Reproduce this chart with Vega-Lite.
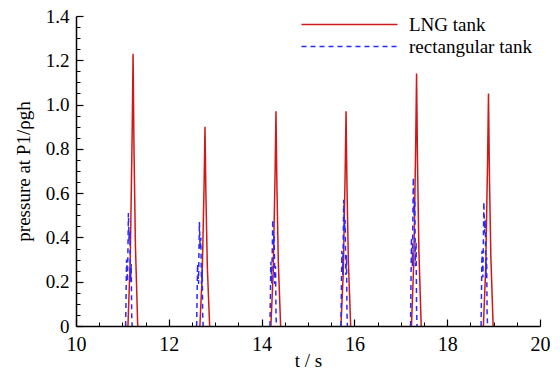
{
  "$schema": "https://vega.github.io/schema/vega-lite/v6.json",
  "width": 464,
  "height": 310,
  "autosize": {"type": "none"},
  "padding": {"left": 76, "top": 16, "right": 20, "bottom": 46},
  "background": "white",
  "config": {
    "view": {"stroke": null},
    "font": "Liberation Serif",
    "axis": {"labelFont": "Liberation Serif", "titleFont": "Liberation Serif"},
    "legend": {"labelFont": "Liberation Serif"}
  },
  "data": {"values": [
    {"series": "LNG tank", "spike": 1, "t": 11.12, "p": 0},
    {"series": "LNG tank", "spike": 1, "t": 11.17, "p": 0.31},
    {"series": "LNG tank", "spike": 1, "t": 11.21, "p": 0.86},
    {"series": "LNG tank", "spike": 1, "t": 11.23, "p": 1.23},
    {"series": "LNG tank", "spike": 1, "t": 11.25, "p": 0.80},
    {"series": "LNG tank", "spike": 1, "t": 11.28, "p": 0.37},
    {"series": "LNG tank", "spike": 1, "t": 11.33, "p": 0},
    {"series": "LNG tank", "spike": 2, "t": 12.67, "p": 0},
    {"series": "LNG tank", "spike": 2, "t": 12.72, "p": 0.23},
    {"series": "LNG tank", "spike": 2, "t": 12.76, "p": 0.63},
    {"series": "LNG tank", "spike": 2, "t": 12.78, "p": 0.90},
    {"series": "LNG tank", "spike": 2, "t": 12.80, "p": 0.59},
    {"series": "LNG tank", "spike": 2, "t": 12.83, "p": 0.27},
    {"series": "LNG tank", "spike": 2, "t": 12.88, "p": 0},
    {"series": "LNG tank", "spike": 3, "t": 14.20, "p": 0},
    {"series": "LNG tank", "spike": 3, "t": 14.25, "p": 0.24},
    {"series": "LNG tank", "spike": 3, "t": 14.29, "p": 0.68},
    {"series": "LNG tank", "spike": 3, "t": 14.31, "p": 0.97},
    {"series": "LNG tank", "spike": 3, "t": 14.33, "p": 0.63},
    {"series": "LNG tank", "spike": 3, "t": 14.36, "p": 0.29},
    {"series": "LNG tank", "spike": 3, "t": 14.41, "p": 0},
    {"series": "LNG tank", "spike": 4, "t": 15.71, "p": 0},
    {"series": "LNG tank", "spike": 4, "t": 15.76, "p": 0.24},
    {"series": "LNG tank", "spike": 4, "t": 15.80, "p": 0.68},
    {"series": "LNG tank", "spike": 4, "t": 15.82, "p": 0.97},
    {"series": "LNG tank", "spike": 4, "t": 15.84, "p": 0.63},
    {"series": "LNG tank", "spike": 4, "t": 15.87, "p": 0.29},
    {"series": "LNG tank", "spike": 4, "t": 15.92, "p": 0},
    {"series": "LNG tank", "spike": 5, "t": 17.23, "p": 0},
    {"series": "LNG tank", "spike": 5, "t": 17.28, "p": 0.29},
    {"series": "LNG tank", "spike": 5, "t": 17.32, "p": 0.80},
    {"series": "LNG tank", "spike": 5, "t": 17.34, "p": 1.14},
    {"series": "LNG tank", "spike": 5, "t": 17.36, "p": 0.74},
    {"series": "LNG tank", "spike": 5, "t": 17.39, "p": 0.34},
    {"series": "LNG tank", "spike": 5, "t": 17.44, "p": 0},
    {"series": "LNG tank", "spike": 6, "t": 18.78, "p": 0},
    {"series": "LNG tank", "spike": 6, "t": 18.83, "p": 0.26},
    {"series": "LNG tank", "spike": 6, "t": 18.87, "p": 0.74},
    {"series": "LNG tank", "spike": 6, "t": 18.89, "p": 1.05},
    {"series": "LNG tank", "spike": 6, "t": 18.91, "p": 0.68},
    {"series": "LNG tank", "spike": 6, "t": 18.94, "p": 0.32},
    {"series": "LNG tank", "spike": 6, "t": 18.99, "p": 0},
    {"series": "rectangular tank", "spike": 1, "t": 11.07, "p": 0},
    {"series": "rectangular tank", "spike": 1, "t": 11.09, "p": 0.30},
    {"series": "rectangular tank", "spike": 1, "t": 11.11, "p": 0.20},
    {"series": "rectangular tank", "spike": 1, "t": 11.13, "p": 0.51},
    {"series": "rectangular tank", "spike": 1, "t": 11.145, "p": 0.38},
    {"series": "rectangular tank", "spike": 1, "t": 11.16, "p": 0.43},
    {"series": "rectangular tank", "spike": 1, "t": 11.175, "p": 0.20},
    {"series": "rectangular tank", "spike": 1, "t": 11.19, "p": 0.28},
    {"series": "rectangular tank", "spike": 1, "t": 11.20, "p": 0.05},
    {"series": "rectangular tank", "spike": 1, "t": 11.21, "p": 0},
    {"series": "rectangular tank", "spike": 2, "t": 12.60, "p": 0},
    {"series": "rectangular tank", "spike": 2, "t": 12.62, "p": 0.28},
    {"series": "rectangular tank", "spike": 2, "t": 12.64, "p": 0.19},
    {"series": "rectangular tank", "spike": 2, "t": 12.66, "p": 0.47},
    {"series": "rectangular tank", "spike": 2, "t": 12.675, "p": 0.35},
    {"series": "rectangular tank", "spike": 2, "t": 12.69, "p": 0.40},
    {"series": "rectangular tank", "spike": 2, "t": 12.705, "p": 0.19},
    {"series": "rectangular tank", "spike": 2, "t": 12.72, "p": 0.26},
    {"series": "rectangular tank", "spike": 2, "t": 12.73, "p": 0.05},
    {"series": "rectangular tank", "spike": 2, "t": 12.74, "p": 0},
    {"series": "rectangular tank", "spike": 3, "t": 14.18, "p": 0},
    {"series": "rectangular tank", "spike": 3, "t": 14.20, "p": 0.29},
    {"series": "rectangular tank", "spike": 3, "t": 14.22, "p": 0.19},
    {"series": "rectangular tank", "spike": 3, "t": 14.24, "p": 0.48},
    {"series": "rectangular tank", "spike": 3, "t": 14.255, "p": 0.36},
    {"series": "rectangular tank", "spike": 3, "t": 14.27, "p": 0.41},
    {"series": "rectangular tank", "spike": 3, "t": 14.285, "p": 0.19},
    {"series": "rectangular tank", "spike": 3, "t": 14.30, "p": 0.27},
    {"series": "rectangular tank", "spike": 3, "t": 14.31, "p": 0.05},
    {"series": "rectangular tank", "spike": 3, "t": 14.32, "p": 0},
    {"series": "rectangular tank", "spike": 4, "t": 15.71, "p": 0},
    {"series": "rectangular tank", "spike": 4, "t": 15.73, "p": 0.34},
    {"series": "rectangular tank", "spike": 4, "t": 15.75, "p": 0.23},
    {"series": "rectangular tank", "spike": 4, "t": 15.77, "p": 0.57},
    {"series": "rectangular tank", "spike": 4, "t": 15.785, "p": 0.43},
    {"series": "rectangular tank", "spike": 4, "t": 15.80, "p": 0.48},
    {"series": "rectangular tank", "spike": 4, "t": 15.815, "p": 0.23},
    {"series": "rectangular tank", "spike": 4, "t": 15.83, "p": 0.32},
    {"series": "rectangular tank", "spike": 4, "t": 15.84, "p": 0.06},
    {"series": "rectangular tank", "spike": 4, "t": 15.85, "p": 0},
    {"series": "rectangular tank", "spike": 5, "t": 17.21, "p": 0},
    {"series": "rectangular tank", "spike": 5, "t": 17.23, "p": 0.40},
    {"series": "rectangular tank", "spike": 5, "t": 17.25, "p": 0.27},
    {"series": "rectangular tank", "spike": 5, "t": 17.27, "p": 0.67},
    {"series": "rectangular tank", "spike": 5, "t": 17.285, "p": 0.50},
    {"series": "rectangular tank", "spike": 5, "t": 17.30, "p": 0.57},
    {"series": "rectangular tank", "spike": 5, "t": 17.315, "p": 0.27},
    {"series": "rectangular tank", "spike": 5, "t": 17.33, "p": 0.38},
    {"series": "rectangular tank", "spike": 5, "t": 17.34, "p": 0.07},
    {"series": "rectangular tank", "spike": 5, "t": 17.35, "p": 0},
    {"series": "rectangular tank", "spike": 6, "t": 18.73, "p": 0},
    {"series": "rectangular tank", "spike": 6, "t": 18.75, "p": 0.34},
    {"series": "rectangular tank", "spike": 6, "t": 18.77, "p": 0.22},
    {"series": "rectangular tank", "spike": 6, "t": 18.79, "p": 0.56},
    {"series": "rectangular tank", "spike": 6, "t": 18.805, "p": 0.42},
    {"series": "rectangular tank", "spike": 6, "t": 18.82, "p": 0.48},
    {"series": "rectangular tank", "spike": 6, "t": 18.835, "p": 0.22},
    {"series": "rectangular tank", "spike": 6, "t": 18.85, "p": 0.31},
    {"series": "rectangular tank", "spike": 6, "t": 18.86, "p": 0.06},
    {"series": "rectangular tank", "spike": 6, "t": 18.87, "p": 0}
  ]},
  "layer": [
    {
      "mark": {"type": "line", "strokeWidth": 1.5, "clip": true},
      "encoding": {
        "x": {
          "field": "t", "type": "quantitative",
          "scale": {"domain": [10, 20], "nice": false, "zero": false},
          "axis": {
            "orient": "bottom",
            "title": "t / s",
            "values": [10, 12, 14, 16, 18, 20],
            "format": "d",
            "labelOverlap": false,
            "labelFlush": false,
            "tickSize": -7,
            "grid": false,
            "domainColor": "black", "domainWidth": 1.5,
            "tickColor": "black", "tickWidth": 1.2,
            "labelFont": "Liberation Serif", "labelFontSize": 20, "labelColor": "black", "labelPadding": 15,
            "titleFont": "Liberation Serif", "titleFontSize": 19, "titleFontWeight": "normal", "titleColor": "black", "titlePadding": -3,
            "zindex": 1
          }
        },
        "y": {
          "field": "p", "type": "quantitative",
          "scale": {"domain": [0, 1.4], "nice": false},
          "axis": {
            "orient": "left",
            "title": "pressure at P1/ρgh",
            "values": [0, 0.2, 0.4, 0.6, 0.8, 1.0, 1.2, 1.4],
            "labelExpr": "datum.value == 0 ? '0' : format(datum.value, '.1f')",
            "labelOverlap": false,
            "labelFlush": false,
            "tickSize": -7,
            "grid": false,
            "domainColor": "black", "domainWidth": 1.5,
            "tickColor": "black", "tickWidth": 1.2,
            "labelFont": "Liberation Serif", "labelFontSize": 19, "labelColor": "black", "labelPadding": 14,
            "titleFont": "Liberation Serif", "titleFontSize": 19, "titleFontWeight": "normal", "titleColor": "black", "titlePadding": 12,
            "zindex": 1
          }
        },
        "color": {
          "field": "series", "type": "nominal",
          "scale": {"domain": ["LNG tank", "rectangular tank"], "range": ["#d01818", "#2a2aff"]},
          "legend": {"title": null, "orient": "none", "legendX": 264, "legendY": -1, "padding": 0,
            "symbolType": "M-9.6,0H9.6", "symbolSize": 100, "symbolStrokeWidth": 1.5,
            "labelFont": "Liberation Serif", "labelFontSize": 19, "labelColor": "black", "labelOffset": 50, "rowPadding": 2}
        },
        "strokeDash": {
          "field": "series", "type": "nominal",
          "scale": {"domain": ["LNG tank", "rectangular tank"], "range": [[1, 0], [5, 4]]},
          "legend": {"title": null, "orient": "none", "legendX": 264, "legendY": -1, "padding": 0,
            "symbolType": "M-9.6,0H9.6", "symbolSize": 100, "symbolStrokeWidth": 1.5,
            "labelFont": "Liberation Serif", "labelFontSize": 19, "labelColor": "black", "labelOffset": 50, "rowPadding": 2}
        },
        "detail": {"field": "spike", "type": "nominal"}
      }
    },
    {
      "mark": {"type": "line", "opacity": 0, "clip": true},
      "encoding": {
        "x": {
          "field": "t", "type": "quantitative",
          "scale": {"domain": [10, 20], "nice": false, "zero": false},
          "axis": {
            "orient": "bottom",
            "title": null,
            "values": [10.5, 11, 11.5, 12.5, 13, 13.5, 14.5, 15, 15.5, 16.5, 17, 17.5, 18.5, 19, 19.5],
            "labels": false,
            "domain": false,
            "tickSize": -4,
            "grid": false,
            "tickColor": "black", "tickWidth": 1,
            "zindex": 1
          }
        },
        "y": {
          "field": "p", "type": "quantitative",
          "scale": {"domain": [0, 1.4], "nice": false},
          "axis": {
            "orient": "left",
            "title": null,
            "values": [0.05, 0.1, 0.15, 0.25, 0.3, 0.35, 0.45, 0.5, 0.55, 0.65, 0.7, 0.75, 0.85, 0.9, 0.95, 1.05, 1.1, 1.15, 1.25, 1.3, 1.35],
            "labels": false,
            "domain": false,
            "tickSize": -4,
            "grid": false,
            "tickColor": "black", "tickWidth": 1,
            "zindex": 1
          }
        },
        "detail": {"field": "spike", "type": "nominal"}
      }
    }
  ],
  "resolve": {"axis": {"x": "independent", "y": "independent"}}
}
